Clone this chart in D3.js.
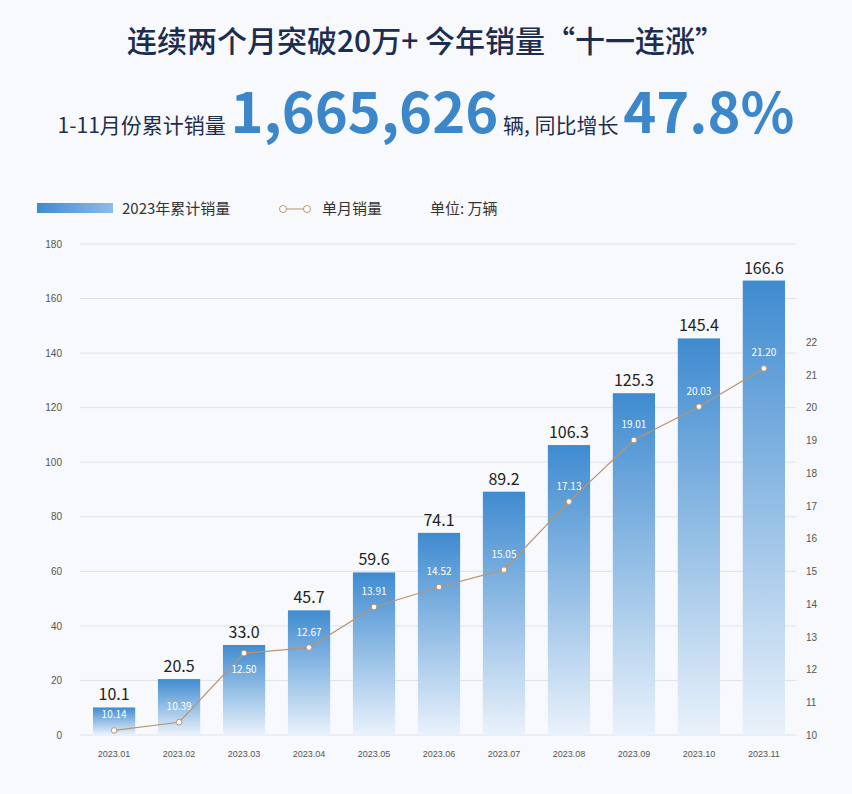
<!DOCTYPE html>
<html><head><meta charset="utf-8">
<script src="https://cdn.jsdelivr.net/npm/d3@7"></script>
<style>body{margin:0;background:#f8f9fc;font-family:"Noto Sans CJK SC","Noto Sans",sans-serif}</style>
</head><body><svg id="c" width="852" height="794"></svg>
<script>
const months=["2023.01","2023.02","2023.03","2023.04","2023.05","2023.06","2023.07","2023.08","2023.09","2023.10","2023.11"];
const cumulative=[10.1,20.5,33.0,45.7,59.6,74.1,89.2,106.3,125.3,145.4,166.6];
const monthly=[10.14,10.39,12.50,12.67,13.91,14.52,15.05,17.13,19.01,20.03,21.20];
const leftTicks=[0,20,40,60,80,100,120,140,160,180];
const rightTicks=[10,11,12,13,14,15,16,17,18,19,20,21,22];

const svg=d3.select("#c");
svg.append("rect").attr("width",852).attr("height",794).attr("fill","#f8f9fc");
const defs=svg.append("defs");
const g=defs.append("linearGradient").attr("id","bg").attr("x1",0).attr("y1",0).attr("x2",0).attr("y2",1);
g.append("stop").attr("offset","0%").attr("stop-color","#3f8bd0");
g.append("stop").attr("offset","100%").attr("stop-color","#eaf2fb");
const lg=defs.append("linearGradient").attr("id","lgd");
lg.append("stop").attr("offset","0%").attr("stop-color","#3f8bd0");
lg.append("stop").attr("offset","100%").attr("stop-color","#8dbde8");

svg.append("text").attr("x",426).attr("y",52).attr("text-anchor","middle").attr("font-size",30).attr("font-weight",500).attr("fill","#1d2d50").text("连续两个月突破20万+  今年销量“十一连涨”");
const t2=svg.append("text").attr("x",426).attr("y",133).attr("text-anchor","middle").attr("fill","#1d2d50");
t2.append("tspan").attr("font-size",21).text("1-11月份累计销量 ");
t2.append("tspan").attr("font-size",56).attr("font-weight",700).attr("fill","#3b87c9").text("1,665,626");
t2.append("tspan").attr("font-size",21).text(" 辆, 同比增长 ");
t2.append("tspan").attr("font-size",56).attr("font-weight",700).attr("fill","#3b87c9").text("47.8%");

svg.append("rect").attr("x",37).attr("y",203).attr("width",76).attr("height",10).attr("fill","url(#lgd)");
svg.append("text").attr("x",122).attr("y",214).attr("font-size",15).attr("fill","#333").text("2023年累计销量");
svg.append("line").attr("x1",283).attr("x2",307).attr("y1",209).attr("y2",209).attr("stroke","#b8956f");
[283,307].forEach(x=>svg.append("circle").attr("cx",x).attr("cy",209).attr("r",3.5).attr("fill","#fff").attr("stroke","#b8956f"));
svg.append("text").attr("x",322).attr("y",214).attr("font-size",15).attr("fill","#333").text("单月销量");
svg.append("text").attr("x",430).attr("y",214).attr("font-size",15).attr("fill","#333").text("单位: 万辆");

const x=d3.scaleBand().domain(months).range([80,798]).paddingInner(0.35).paddingOuter(0.2);
const y=d3.scaleLinear().domain([0,180]).range([735,244]);
const y2=d3.scaleLinear().domain([10,25]).range([735,244]);

svg.append("g").selectAll("line").data(leftTicks).join("line")
 .attr("x1",80).attr("x2",796).attr("y1",d=>y(d)).attr("y2",d=>y(d)).attr("stroke","#dde3ea");
const la=svg.append("g").attr("transform","translate(62,0)").call(d3.axisLeft(y).tickValues(leftTicks).tickSize(0).tickPadding(0));
la.select(".domain").remove();la.selectAll("text").attr("font-size",10).attr("fill","#555");
const ra=svg.append("g").attr("transform","translate(806,0)").call(d3.axisRight(y2).tickValues(rightTicks).tickSize(0).tickPadding(0));
ra.select(".domain").remove();ra.selectAll("text").attr("font-size",10).attr("fill","#555");
const xa=svg.append("g").attr("transform","translate(0,745)").call(d3.axisBottom(x).tickSize(0).tickPadding(6));
xa.select(".domain").remove();xa.selectAll("text").attr("font-size",9).attr("fill","#555");

svg.append("g").selectAll("rect").data(cumulative).join("rect")
 .attr("x",(d,i)=>x(months[i])).attr("width",x.bandwidth()).attr("y",d=>y(d)).attr("height",d=>735-y(d)).attr("fill","url(#bg)");
svg.append("g").selectAll("text").data(cumulative).join("text")
 .attr("x",(d,i)=>x(months[i])+x.bandwidth()/2).attr("y",d=>y(d)-7).attr("text-anchor","middle")
 .attr("font-size",16).attr("fill","#222").text(d=>d.toFixed(1));

const line=d3.line().x((d,i)=>x(months[i])+x.bandwidth()/2).y(d=>y2(d));
svg.append("path").datum(monthly).attr("d",line).attr("fill","none").attr("stroke","#b8956f").attr("stroke-width",1.2);
svg.append("g").selectAll("circle").data(monthly).join("circle")
 .attr("cx",(d,i)=>x(months[i])+x.bandwidth()/2).attr("cy",d=>y2(d)).attr("r",2.8).attr("fill","#fff").attr("stroke","#b8956f");
svg.append("g").selectAll("text").data(monthly).join("text")
 .attr("x",(d,i)=>x(months[i])+x.bandwidth()/2)
 .attr("y",(d,i)=>{const above=y2(d)-12; return above-10<y(cumulative[i])? y2(d)+20 : above;})
 .attr("text-anchor","middle")
 .attr("font-size",10).attr("fill","#fff").text(d=>d.toFixed(2));
</script></body></html>
